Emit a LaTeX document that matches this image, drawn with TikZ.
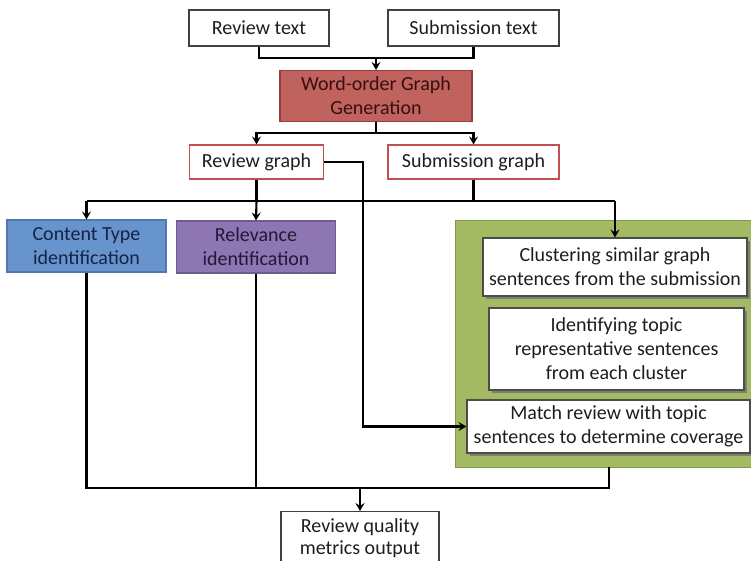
\documentclass[tikz,border=0pt]{standalone}
\usepackage{fontspec}
\setmainfont{Carlito}
\usetikzlibrary{arrows.meta,shadows}
\definecolor{wogfill}{RGB}{192,98,94}
\definecolor{wogdraw}{RGB}{150,60,58}
\definecolor{redline}{RGB}{192,80,77}
\definecolor{bluefill}{RGB}{104,148,205}
\definecolor{bluedraw}{RGB}{80,120,175}
\definecolor{purpfill}{RGB}{141,118,178}
\definecolor{purpdraw}{RGB}{110,92,145}
\definecolor{greenfill}{RGB}{163,185,98}
\definecolor{greendraw}{RGB}{130,150,75}
\definecolor{txt}{RGB}{30,30,30}
\begin{document}
\begin{tikzpicture}[x=1pt,y=-1pt,
  box/.style={draw, align=center, inner sep=0pt, text=txt,
    font=\fontsize{20}{24}\selectfont, line width=1.1pt},
  inbox/.style={box, fill=white, draw=black!70,
    drop shadow={shadow xshift=2.5pt, shadow yshift=-2.5pt, fill=black!55, opacity=0.8}},
  conn/.style={line width=2.1pt, black},
  arr/.style={conn, -{Stealth[length=8pt,width=9pt,inset=3pt]}}
]
\useasboundingbox (0,0) rectangle (751,560);
\clip (0,0) rectangle (751,560);
\fill[white] (0,0) rectangle (751,560);

% nodes
\node[box, draw=black!75, minimum width=140pt, minimum height=36pt] (rt) at (259,28) {Review text};
\node[box, draw=black!75, minimum width=171pt, minimum height=36pt] (st) at (473.5,28) {Submission text};
\node[box, fill=wogfill, draw=wogdraw, text={rgb,255:red,55;green,15;blue,15}, minimum width=192pt, minimum height=51pt] (wog) at (376,96) {Word-order Graph\\Generation};
\node[box, draw=redline, minimum width=134pt, minimum height=34pt] (rg) at (256.5,162) {Review graph};
\node[box, draw=redline, minimum width=171pt, minimum height=34pt] (sg) at (473.5,162) {Submission graph};
\node[box, fill=bluefill, draw=bluedraw, text={rgb,255:red,20;green,35;blue,70}, minimum width=159pt, minimum height=52pt] (ct) at (86.5,246) {Content Type\\identification};
\node[box, fill=purpfill, draw=purpdraw, text={rgb,255:red,35;green,25;blue,55}, minimum width=159pt, minimum height=52pt] (rel) at (256,247) {Relevance\\identification};
\node[draw=greendraw, fill=greenfill, line width=1pt, minimum width=310pt, minimum height=247pt, inner sep=0pt] (grp) at (610,343.5) {};
\node[inbox, minimum width=264pt, minimum height=58pt] (cl) at (615,267) {Clustering similar graph\\sentences from the submission};
\node[inbox, minimum width=255pt, minimum height=82pt] (idt) at (616.5,349) {Identifying topic\\representative sentences\\from each cluster};
\node[inbox, minimum width=283pt, minimum height=53pt] (mt) at (608.5,426.5) {Match review with topic\\sentences to determine coverage};
\node[box, draw=black!75, minimum width=158pt, minimum height=70pt, anchor=north] (rq) at (360,511) {};
\node[align=center, text=txt, font=\fontsize{20}{22}\selectfont, anchor=north, inner sep=0pt] (rqt) at (360,518) {Review quality\\metrics output};

% coordinates
\coordinate (j1) at (376,58);
\coordinate (j2) at (376,133);
\coordinate (busL) at (86.5,201);
\coordinate (busR) at (615,201);
\coordinate (rgx) at (363,0);
\coordinate (bL) at (86.5,488);
\coordinate (bR) at (609,488);
\coordinate (gb) at (609,467);

% connectors top
\draw[conn] (rt.south) |- (j1) -| (st.south);
\draw[arr] (j1) -- (wog.north);
\draw[conn] (wog.south) -- (j2);
\draw[arr] (j2) -| (rg.north);
\draw[arr] (j2) -| (sg.north);

% bus
\draw[conn] (busL) -- (busR);
\draw[conn] (rg.south) -- (rg.south |- busL);
\draw[conn] (sg.south) -- (sg.south |- busL);
\draw[arr] (busL) -- (ct.north);
\draw[arr] (rg.south |- busL) -- (rel.north);
\draw[arr] (busR) -- (cl.north);

% review graph to match
\draw[arr] (rg.east) -| (rgx |- mt.west) -- (mt.west);

% bottom
\draw[conn] (ct.south) -- (bL) -- (bR) -- (gb);
\draw[conn] (rel.south) -- (rel.south |- bL);
\draw[arr] (rq.north |- bL) -- (rq.north);
\end{tikzpicture}
\end{document}
